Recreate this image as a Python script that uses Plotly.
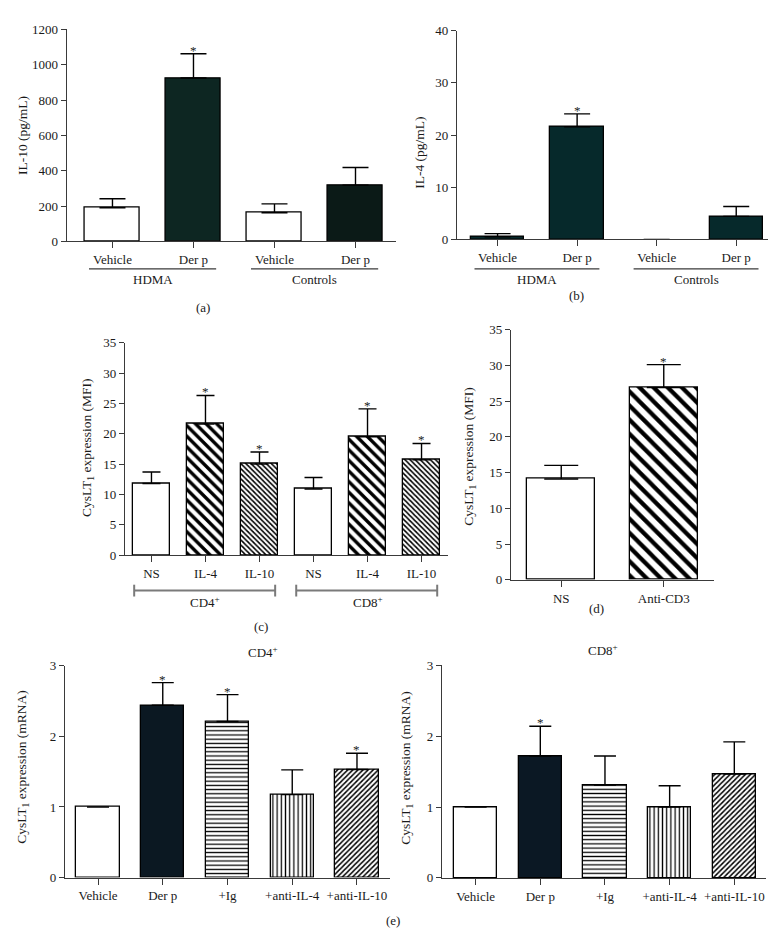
import plotly.graph_objects as go

W, H = 776, 934
FONT = "Liberation Serif"
AX = "#3a3a3a"
FS = 13

# ---------------- data ----------------
a_labels = ["Vehicle", "Der p", "Vehicle", "Der p"]
a_values = [190, 925, 162, 318]
a_errors = [51, 137, 50, 100]
a_sig = [False, True, False, False]
a_groups = ["HDMA", "Controls"]

b_labels = ["Vehicle", "Der p", "Vehicle", "Der p"]
b_values = [0.5, 21.6, 0, 4.4]
b_errors = [0.6, 2.45, 0, 1.9]
b_sig = [False, True, False, False]
b_groups = ["HDMA", "Controls"]

c_labels = ["NS", "IL-4", "IL-10", "NS", "IL-4", "IL-10"]
c_values = [11.8, 21.6, 15.0, 10.9, 19.5, 15.7]
c_errors = [1.9, 4.7, 2.0, 1.9, 4.6, 2.7]
c_sig = [False, True, True, False, True, True]
c_groups = ["CD4<sup>+</sup>", "CD8<sup>+</sup>"]

d_labels = ["NS", "Anti-CD3"]
d_values = [14.1, 26.9]
d_errors = [1.9, 3.2]
d_sig = [False, True]

e_labels = ["Vehicle", "Der p", "+Ig", "+anti-IL-4", "+anti-IL-10"]
e_cd4_values = [1.0, 2.44, 2.21, 1.175, 1.53]
e_cd4_errors = [0, 0.32, 0.38, 0.35, 0.23]
e_cd4_sig = [False, True, True, False, True]
e_cd8_values = [1.0, 1.72, 1.31, 1.0, 1.465]
e_cd8_errors = [0, 0.42, 0.41, 0.30, 0.455]
e_cd8_sig = [False, True, False, False, False]

fig = go.Figure()

def xdom(p0, p1):
    return [p0 / W, p1 / W]

def ydom(pb, pt):
    return [1 - pb / H, 1 - pt / H]

def py(p):
    return 1 - p / H

panels = [
    dict(k="", labels=a_labels, v=a_values, e=a_errors, s=a_sig, xd=(58.7, 388), xr=[-0.565, 3.5],
         yd=(230, 14.7), yr=[0, 1200], dt=200, w=0.68,
         col=["white", "#0d2622", "white", "#0b1a17"], shp=["", "", "", ""], sz=[8]*4, so=[0.3]*4, cap=13),
    dict(k="2", labels=b_labels, v=b_values, e=b_errors, s=b_sig, xd=(449, 768), xr=[-0.51, 3.5],
         yd=(228, 16), yr=[0, 40], dt=10, w=0.67,
         col=["#06292b"]*4, shp=["", "", "", ""], sz=[8]*4, so=[0.3]*4, cap=13),
    dict(k="3", labels=c_labels, v=c_values, e=c_errors, s=c_sig, xd=(117, 440), xr=[-0.49, 5.49],
         yd=(549, 333), yr=[0, 35], dt=5, w=0.68,
         col=["white", "black", "black", "white", "black", "black"],
         shp=["", "\\", "\\", "", "\\", "\\"], sz=[8, 7.5, 3.6, 8, 7.5, 3.6], so=[0.3, 0.45, 0.45, 0.3, 0.45, 0.45], cap=9),
    dict(k="4", labels=d_labels, v=d_values, e=d_errors, s=d_sig, xd=(503, 706), xr=[-0.49, 1.49],
         yd=(574, 319.7), yr=[0, 35], dt=5, w=0.66,
         col=["white", "black"], shp=["", "\\"], sz=[8, 10], so=[0.3, 0.42], cap=17),
    dict(k="5", labels=e_labels, v=e_cd4_values, e=e_cd4_errors, s=e_cd4_sig, xd=(57, 382), xr=[-0.51, 4.51],
         yd=(876.7, 661.3), yr=[0, 3], dt=1, w=0.67,
         col=["white", "#0b1822", "black", "black", "black"],
         shp=["", "", "-", "|", "/"], sz=[8, 8, 4.2, 4.2, 3.6], so=[0.3, 0.3, 0.3, 0.3, 0.42], cap=11),
    dict(k="6", labels=e_labels, v=e_cd8_values, e=e_cd8_errors, s=e_cd8_sig, xd=(434, 758), xr=[-0.52, 4.49],
         yd=(877, 661), yr=[0, 3], dt=1, w=0.67,
         col=["white", "#0b1824", "black", "black", "black"],
         shp=["", "", "-", "|", "/"], sz=[8, 8, 4.2, 4.2, 3.6], so=[0.3, 0.3, 0.3, 0.3, 0.42], cap=11),
]

layout_axes = {}
annotations = []
shapes = []

for p in panels:
    k = p["k"]
    n = len(p["v"])
    xs = list(range(n))
    err_draw = [e if e > 0 else None for e in p["e"]]
    line_w = [1.3 if v > 0 else 0 for v in p["v"]]
    fig.add_trace(go.Bar(
        x=xs, y=p["v"], width=p["w"],
        xaxis="x" + k, yaxis="y" + k,
        marker=dict(color=p["col"], line=dict(color="black", width=line_w),
                    pattern=dict(shape=p["shp"], size=p["sz"], solidity=p["so"],
                                 fgcolor="black", bgcolor="white", fillmode="replace")),
        error_y=dict(type="data", symmetric=False, array=err_draw, arrayminus=[0]*n,
                     color="black", thickness=1.4, width=p["cap"]),
        showlegend=False, hoverinfo="skip",
    ))
    layout_axes["xaxis" + k] = dict(
        domain=xdom(*p["xd"]), range=p["xr"], anchor="y" + k,
        tickmode="array", tickvals=xs, ticktext=p["labels"],
        showline=True, linecolor=AX, linewidth=1.3, ticks="outside", ticklen=6,
        tickcolor=AX, tickwidth=1.2, showgrid=False, zeroline=False,
        tickfont=dict(family=FONT, size=FS, color="#1a1a1a"), fixedrange=True,
    )
    layout_axes["yaxis" + k] = dict(
        domain=ydom(*p["yd"]), range=p["yr"], anchor="x" + k, dtick=p["dt"], tick0=0,
        showline=True, linecolor=AX, linewidth=1.3, ticks="outside", ticklen=5,
        tickcolor=AX, tickwidth=1.2, showgrid=False, zeroline=False,
        tickfont=dict(family=FONT, size=FS, color="#1a1a1a"), fixedrange=True,
    )
    for i in range(n):
        if p["s"][i]:
            annotations.append(dict(
                x=xs[i], y=p["v"][i] + p["e"][i], xref="x" + k, yref="y" + k,
                text="*", showarrow=False, yanchor="bottom", yshift=-6,
                font=dict(family=FONT, size=13, color="#1a1a1a")))

# group lines / labels for panels a and b
for k, groups in [("", a_groups), ("2", b_groups)]:
    for gi, g in enumerate(groups):
        first, last = gi * 2, gi * 2 + 1
        shapes.append(dict(type="line", xref="x" + k, yref="paper",
                           x0=first - 0.29, x1=last + 0.28, y0=py(258), y1=py(258),
                           line=dict(color=AX, width=1.1)))
        annotations.append(dict(x=(first + last) / 2, y=py(268.5), xref="x" + k, yref="paper",
                                text=g, showarrow=False, yanchor="middle",
                                font=dict(family=FONT, size=FS, color="#1a1a1a")))

# bracket groups for panel c
for gi, g in enumerate(c_groups):
    first, last = gi * 3, gi * 3 + 2
    x0, x1 = first - 0.32, last + 0.29
    shapes.append(dict(type="line", xref="x3", yref="paper", x0=x0, x1=x1, y0=py(585), y1=py(585),
                       line=dict(color="#7a7a7a", width=2)))
    for xx in (x0, x1):
        shapes.append(dict(type="line", xref="x3", yref="paper", x0=xx, x1=xx, y0=py(579), y1=py(591),
                           line=dict(color="#7a7a7a", width=2)))
    annotations.append(dict(x=(first + last) / 2, y=py(597), xref="x3", yref="paper",
                            text=g, showarrow=False, yanchor="middle",
                            font=dict(family=FONT, size=FS, color="#1a1a1a")))

# y axis titles
ytitles = [
    ("IL-10 (pg/mL)", 14, 123),
    ("IL-4 (pg/mL)", 412, 140),
    ("CysLT<sub>1</sub> expression (MFI)", 80, 440),
    ("CysLT<sub>1</sub> expression (MFI)", 462, 449),
    ("CysLT<sub>1</sub> expression (mRNA)", 15, 765),
    ("CysLT<sub>1</sub> expression (mRNA)", 399, 765),
]
for t, xp, yp in ytitles:
    annotations.append(dict(x=xp / W, y=py(yp), xref="paper", yref="paper", text=t,
                            textangle=-90, showarrow=False, xanchor="center", yanchor="middle",
                            font=dict(family=FONT, size=FS + 0.5, color="#1a1a1a")))

# panel letters and titles
for t, xp, yp in [("(a)", 195, 297), ("(b)", 568, 285), ("(c)", 253, 621), ("(d)", 588, 603),
                  ("(e)", 385, 920), ("CD4<sup>+</sup>", 255, 647), ("CD8<sup>+</sup>", 595, 645)]:
    annotations.append(dict(x=xp / W, y=py(yp), xref="paper", yref="paper", text=t,
                            showarrow=False, xanchor="center", yanchor="middle",
                            font=dict(family=FONT, size=FS, color="#1a1a1a")))

fig.update_layout(
    width=W, height=H, margin=dict(l=0, r=0, t=0, b=0),
    paper_bgcolor="white", plot_bgcolor="white",
    bargap=0, annotations=annotations, shapes=shapes,
    font=dict(family=FONT, size=FS, color="#1a1a1a"),
    **layout_axes,
)

fig.write_html("out.html")
